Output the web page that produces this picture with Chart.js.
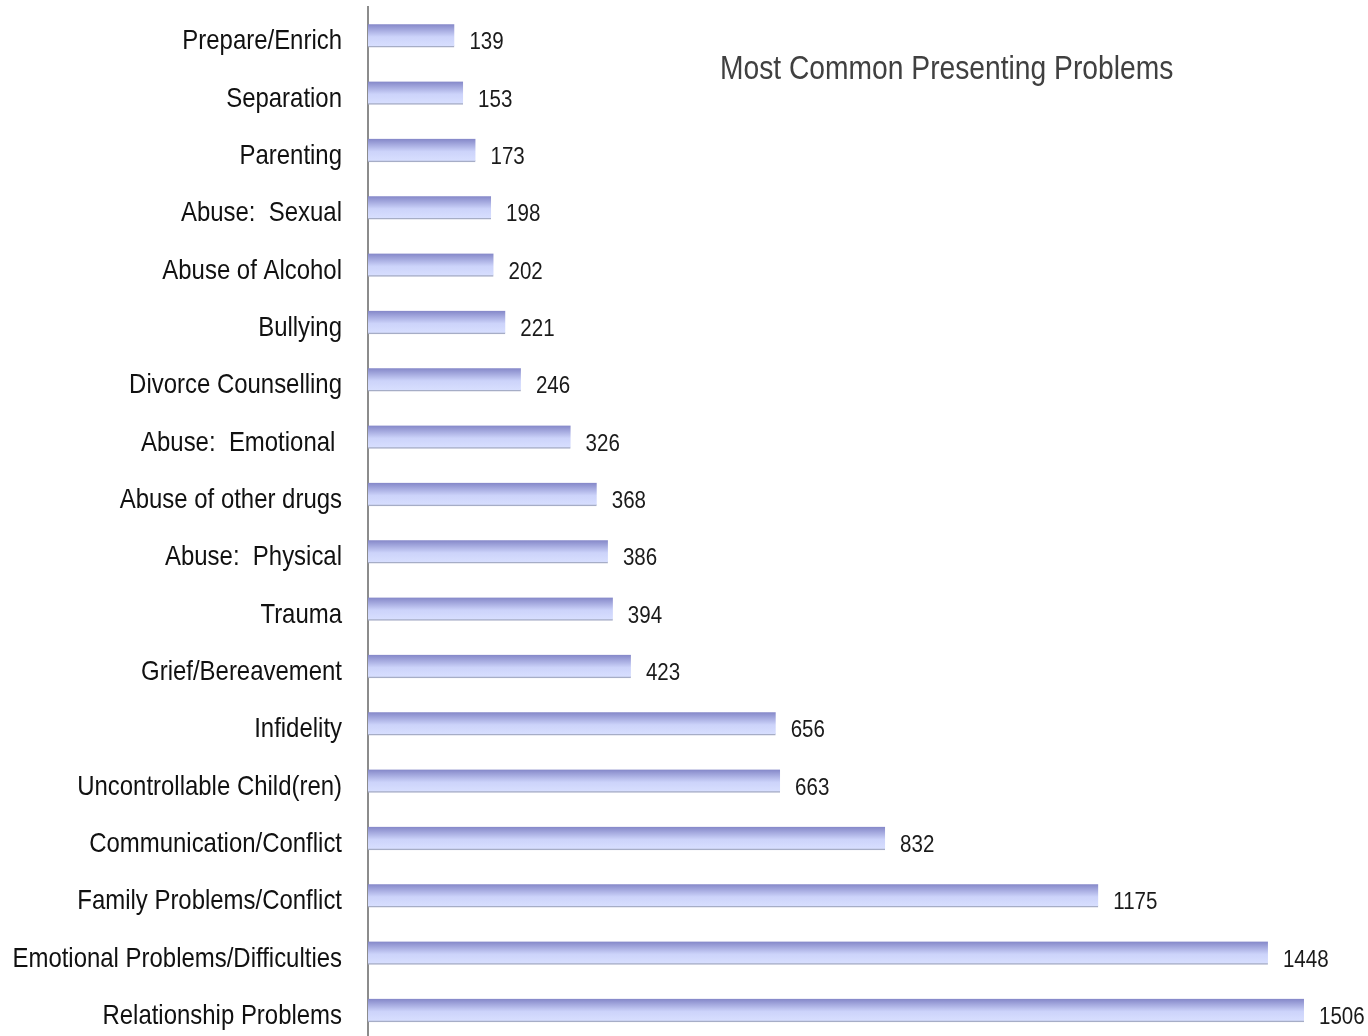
<!DOCTYPE html>
<html>
<head>
<meta charset="utf-8">
<script src="https://cdn.jsdelivr.net/npm/chart.js@4/dist/chart.umd.min.js"></script>
<style>
  html, body { margin: 0; padding: 0; background: #fff; overflow: hidden; }
  #wrap { position: relative; width: 1368px; height: 1039px; }
  #title {
    position: absolute; left: 720px; top: 50px;
    font-family: "Liberation Sans", Arial, sans-serif;
    font-size: 34px; line-height: 34px; color: #404040; white-space: nowrap;
    transform: scaleX(0.83); transform-origin: 0 0;
  }
</style>
</head>
<body>
<div id="wrap">
  <canvas id="chart" width="1368" height="1039"></canvas>
  <div id="title">Most Common Presenting Problems</div>
</div>
<script>
// --- Data ---
const categories = [
  'Prepare/Enrich', 'Separation', 'Parenting', 'Abuse:  Sexual', 'Abuse of Alcohol',
  'Bullying', 'Divorce Counselling', 'Abuse:  Emotional ', 'Abuse of other drugs',
  'Abuse:  Physical', 'Trauma', 'Grief/Bereavement', 'Infidelity',
  'Uncontrollable Child(ren)', 'Communication/Conflict', 'Family Problems/Conflict',
  'Emotional Problems/Difficulties', 'Relationship Problems'
];
const counts = [139, 153, 173, 198, 202, 221, 246, 326, 368, 386, 394, 423, 656, 663, 832, 1175, 1448, 1506];

const FONT = '"Liberation Sans", Arial, sans-serif';
const NARROW = 0.855; // no narrow face installed, so squeeze the regular one

// gradient per bar, built from the y scale once layout is done
function barFill(ctx) {
    const chart = ctx.chart;
    if (!chart.chartArea) return '#b0b6ec';
    const y = chart.scales.y.getPixelForValue(ctx.dataIndex);
    const h = 23;
    const g = chart.ctx.createLinearGradient(0, y - h / 2, 0, y + h / 2);
    g.addColorStop(0, '#8487c8');
    g.addColorStop(0.55, '#ccd3fa');
    g.addColorStop(1, '#d9e0ff');
    return g;
}

function narrowText(c, text, x, y) {
    c.save();
    c.translate(x, y);
    c.scale(NARROW, 1);
    c.fillText(text, 0, 0);
    c.restore();
}

// category names and value labels, condensed
const textLabels = {
    id: 'textLabels',
    afterDatasetsDraw(chart) {
        const c = chart.ctx;
        const yScale = chart.scales.y;
        c.save();
        c.textBaseline = 'middle';

        c.font = '28px ' + FONT;
        c.fillStyle = '#111';
        c.textAlign = 'right';
        categories.forEach((name, i) => {
            narrowText(c, name, yScale.right - 26, yScale.getPixelForTick(i) + 6);
        });

        c.font = '24px ' + FONT;
        c.fillStyle = '#1a1a1a';
        c.textAlign = 'left';
        chart.getDatasetMeta(0).data.forEach((bar, i) => {
            narrowText(c, String(counts[i]), bar.x + 15, bar.y + 7);
        });
        c.restore();
    }
};

new Chart(document.getElementById('chart'), {
    type: 'bar',
    data: {
        labels: categories,
        datasets: [{
            data: counts,
            backgroundColor: barFill,
            borderColor: '#a6adc6',
            borderWidth: { top: 0, right: 0, bottom: 1.5, left: 0 },
            borderSkipped: false,
            barThickness: 23
        }]
    },
    options: {
        responsive: false,
        animation: false,
        layout: { padding: { top: 7, right: 0, bottom: 0, left: 0 } },
        indexAxis: 'y',
        plugins: {
            legend: { display: false },
            tooltip: { enabled: false }
        },
        scales: {
            x: {
                display: false,
                min: 0,
                max: 1609
            },
            y: {
                grid: { display: false, drawTicks: false },
                border: { display: true, color: '#8c8c8c', width: 2 },
                ticks: { display: false, autoSkip: false },
                afterFit(scale) {
                    scale.width = 368;
                    scale.paddingTop = 0;
                    scale.paddingBottom = 0;
                }
            }
        }
    },
    plugins: [textLabels]
});
</script>
</body>
</html>
